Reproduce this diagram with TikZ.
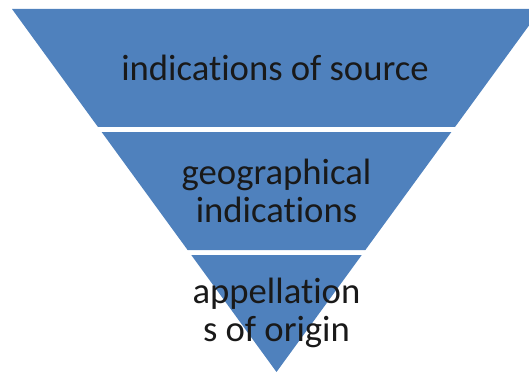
\documentclass[tikz,border=0pt]{standalone}
\usepackage{fontspec}
\setmainfont[RawFeature={-liga;-dlig;-clig}]{Carlito}
\usepackage{xcolor}
\usetikzlibrary{calc}
\definecolor{bandblue}{RGB}{79,129,189}

\begin{document}
\begin{tikzpicture}[
  x=0.75pt, y=-0.75pt,
  band/.style={fill=bandblue},
  bandtext/.style={align=center, inner sep=0pt, text=black!90,
                   font=\fontsize{27.5}{28.5}\selectfont}
]
\useasboundingbox (0,0) rectangle (529,374);
\clip (0,0) rectangle (529,374);
\coordinate (tl) at (12,9);
\coordinate (tr) at (541,9);
\coordinate (apex) at (276.5,372);

% three bands of the funnel
\fill[band] (tl) -- (tr) -- ($(tr)!0.325!(apex)$) -- ($(tl)!0.325!(apex)$) -- cycle;
\fill[band] ($(tl)!0.339!(apex)$) -- ($(tr)!0.339!(apex)$) -- ($(tr)!0.664!(apex)$) -- ($(tl)!0.664!(apex)$) -- cycle;
\fill[band] ($(tl)!0.678!(apex)$) -- ($(tr)!0.678!(apex)$) -- (apex) -- cycle;

\node[bandtext] (src) at (275,68) {indications of source};
\node[bandtext] (geo) at (276.5,191) {geographical\\indications};
\node[bandtext] (app) at (276.5,313) {appellation\\s of origin};
\end{tikzpicture}
\end{document}
